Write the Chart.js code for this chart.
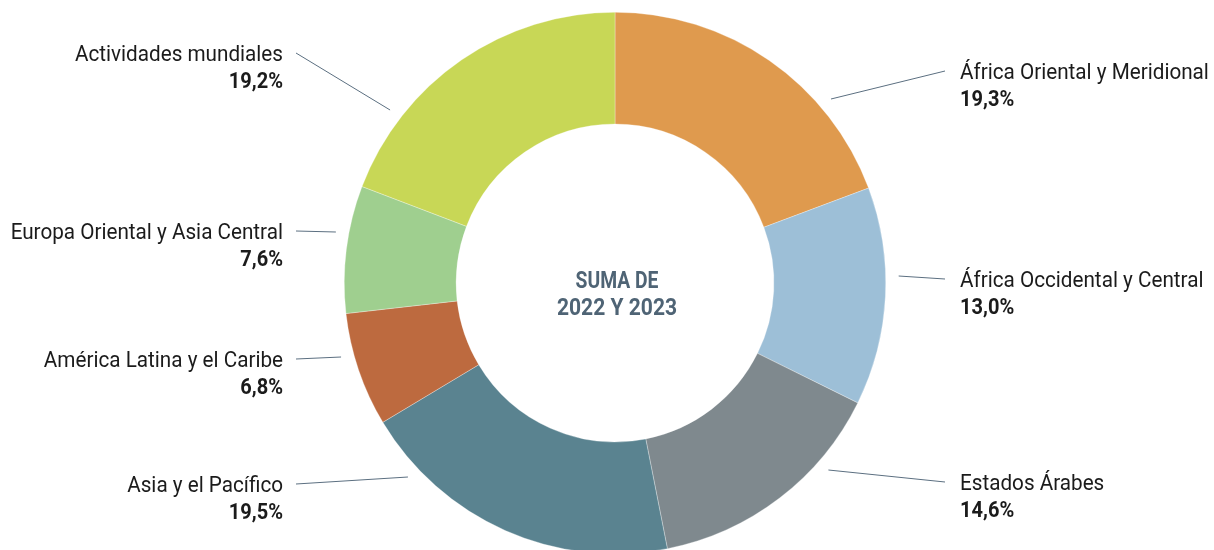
<!DOCTYPE html>
<html>
<head>
<meta charset="utf-8">
<script src="https://cdn.jsdelivr.net/npm/chart.js@4"></script>
<style>
  html, body { margin: 0; padding: 0; background: #fff; overflow: hidden; }
  #wrap { width: 1214px; height: 566px; }
</style>
</head>
<body>
<div id="wrap"><canvas id="grafico" width="1214" height="566"></canvas></div>
<script>
// datos del gráfico (orden horario desde arriba)
const regiones = [
    'África Oriental y Meridional',
    'África Occidental y Central',
    'Estados Árabes',
    'Asia y el Pacífico',
    'América Latina y el Caribe',
    'Europa Oriental y Asia Central',
    'Actividades mundiales'
];
const porcentajes = [19.3, 13.0, 14.6, 19.5, 6.8, 7.6, 19.2];
const colores = ['#DF9A4E', '#9DBFD7', '#7F898E', '#5A8390', '#BD6A3F', '#9FCF8F', '#C8D756'];
const tituloCentro = ['SUMA DE', '2022 Y 2023'];

// posición de las etiquetas: lado, línea base del nombre, y de la guía junto al anillo
const etiquetas = [
    { lado: 'der', base: 79, guiaY: 99 },
    { lado: 'der', base: 287, guiaY: 276 },
    { lado: 'der', base: 490, guiaY: 470 },
    { lado: 'izq', base: 492, guiaY: 477 },
    { lado: 'izq', base: 367, guiaY: 357 },
    { lado: 'izq', base: 239, guiaY: 232 },
    { lado: 'izq', base: 61, guiaY: 110 }
];

const fuente = 'Roboto, "Liberation Sans", sans-serif';

function textoEstrecho(ctx, txt, x, y, align, escala) {
    ctx.save();
    ctx.translate(x, y);
    ctx.scale(escala, 1);
    ctx.textAlign = align;
    ctx.fillText(txt, 0, 0);
    ctx.restore();
}

function formato(v) {
    return v.toFixed(1).replace('.', ',') + '%';
}

const etiquetasPlugin = {
    id: 'etiquetas',
    afterDraw(chart) {
        const ctx = chart.ctx;
        const arco = chart.getDatasetMeta(0).data[0];
        const cx = arco.x, cy = arco.y;
        const rGuia = arco.outerRadius + 13;
        ctx.save();
        ctx.textBaseline = 'alphabetic';
        regiones.forEach(function (nombre, i) {
            const e = etiquetas[i];
            const der = e.lado === 'der';
            const xTexto = der ? cx + 345 : cx - 332;
            const xFin = der ? cx + 330 : cx - 319;
            const dy = e.guiaY - cy;
            const dx = Math.sqrt(Math.max(rGuia * rGuia - dy * dy, 0));
            const xIni = der ? cx + dx : cx - dx;

            ctx.strokeStyle = '#5B6F80';
            ctx.lineWidth = 1;
            ctx.beginPath();
            ctx.moveTo(xIni, e.guiaY);
            ctx.lineTo(xFin, e.base - 8);
            ctx.stroke();

            ctx.fillStyle = '#1b1b1b';
            ctx.font = '22px ' + fuente;
            textoEstrecho(ctx, nombre, xTexto, e.base, der ? 'left' : 'right', 0.94);
            ctx.font = 'bold 22px ' + fuente;
            textoEstrecho(ctx, formato(porcentajes[i]), xTexto, e.base + 27, der ? 'left' : 'right', 0.91);
        });

        ctx.fillStyle = '#4F6475';
        ctx.font = 'bold 24px ' + fuente;
        textoEstrecho(ctx, tituloCentro[0], cx + 2, 288, 'center', 0.805);
        textoEstrecho(ctx, tituloCentro[1], cx + 2, 315, 'center', 0.877);
        ctx.restore();
    }
};

new Chart(document.getElementById('grafico'), {
    type: 'doughnut',
    data: {
        labels: regiones,
        datasets: [{
            data: porcentajes,
            backgroundColor: colores,
            borderColor: 'rgba(255,255,255,0.6)',
            borderWidth: 0.5,
            hoverOffset: 0
        }]
    },
    options: {
        responsive: false,
        animation: false,
        cutout: '58.7%',
        layout: { padding: { top: 12, bottom: 12, left: 16, right: 0 } },
        plugins: {
            legend: { display: false },
            tooltip: { enabled: false }
        }
    },
    plugins: [etiquetasPlugin]
});
</script>
</body>
</html>
